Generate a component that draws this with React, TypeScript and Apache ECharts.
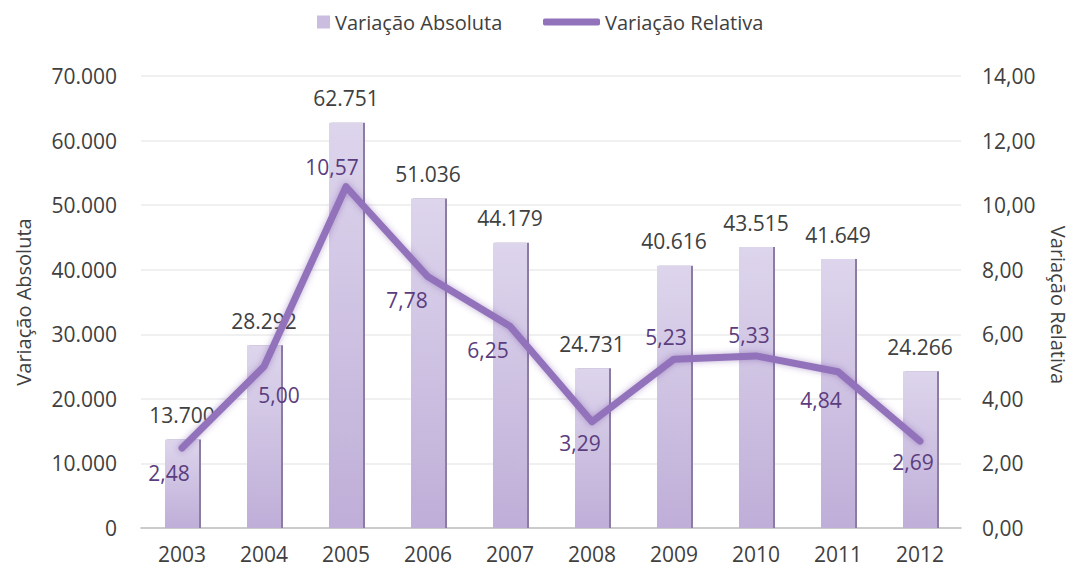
import React, { useEffect, useRef } from "react";
import * as echarts from "echarts";

const years = ["2003", "2004", "2005", "2006", "2007", "2008", "2009", "2010", "2011", "2012"];
const variacaoAbsoluta = [13700, 28292, 62751, 51036, 44179, 24731, 40616, 43515, 41649, 24266];
const variacaoRelativa = [2.48, 5.0, 10.57, 7.78, 6.25, 3.29, 5.23, 5.33, 4.84, 2.69];
const leftAxisTitle = "Variação Absoluta";
const rightAxisTitle = "Variação Relativa";
// label offsets (style only) for the relative-variation labels
const relLabelOffsets: [number, number][] = [
  [-13, 25], [15, 28], [-14, -20], [-21, 23], [-22, 24],
  [-12, 21], [-8, -22], [-7, -21], [-17, 28], [-7, 21],
];

const FONT = "Open Sans";
const TEXT = "#404040";
const FS = 21;

const fmtThousands = (v: number) => {
  const s = Math.round(v).toString();
  return s.replace(/\B(?=(\d{3})+(?!\d))/g, ".");
};
const fmtDec = (v: number) => v.toFixed(2).replace(".", ",");

export default function App() {
  const ref = useRef<HTMLDivElement>(null);
  useEffect(() => {
    if (!ref.current) return;
    const chart = echarts.init(ref.current, undefined, { renderer: "svg" });
    const barColor = new echarts.graphic.LinearGradient(0, 0, 0, 1, [
      { offset: 0, color: "#ddd5ec" },
      { offset: 1, color: "#bfaed8" },
    ]);
    chart.setOption({
      animation: false,
      textStyle: { fontFamily: FONT },
      legend: [
        {
          left: 317,
          top: 12,
          padding: 0,
          itemWidth: 13,
          itemHeight: 13,
          textStyle: { fontSize: 20, color: TEXT, fontFamily: FONT },
          data: [
            {
              name: leftAxisTitle,
              icon: "rect",
              itemStyle: { color: "#cbbde0", shadowBlur: 0, shadowOffsetX: 0, shadowColor: "transparent" },
            },
          ],
        },
        {
          left: 543,
          top: 12,
          padding: 0,
          itemWidth: 57,
          itemHeight: 7,
          textStyle: { fontSize: 20, color: TEXT, fontFamily: FONT },
          data: [
            {
              name: rightAxisTitle,
              icon: "roundRect",
              itemStyle: { color: "#9272ba", shadowBlur: 0, shadowColor: "transparent" },
            },
          ],
        },
      ],
      graphic: [
        {
          type: "text",
          x: 23,
          y: 302,
          rotation: Math.PI / 2,
          style: {
            text: leftAxisTitle,
            fill: TEXT,
            font: `20px "${FONT}"`,
            textAlign: "center",
            textVerticalAlign: "middle",
          },
        },
        {
          type: "text",
          x: 1058,
          y: 305,
          rotation: -Math.PI / 2,
          style: {
            text: rightAxisTitle,
            fill: TEXT,
            font: `20px "${FONT}"`,
            textAlign: "center",
            textVerticalAlign: "middle",
          },
        },
      ],
      grid: { left: 141, right: 112, top: 76, bottom: 41 },
      xAxis: {
        type: "category",
        data: years,
        axisLine: { lineStyle: { color: "#bfbfbf", width: 1.5 } },
        axisTick: { show: false },
        axisLabel: { color: TEXT, fontSize: FS, fontFamily: FONT, margin: 15 },
      },
      yAxis: [
        {
          type: "value",
          min: 0,
          max: 70000,
          interval: 10000,
          axisLine: { show: false },
          axisTick: { show: false },
          axisLabel: { color: TEXT, fontSize: FS, fontFamily: FONT, margin: 24, formatter: fmtThousands },
          splitLine: { lineStyle: { color: "#ebebeb", width: 1.5 } },
        },
        {
          type: "value",
          min: 0,
          max: 14,
          interval: 2,
          axisLine: { show: false },
          axisTick: { show: false },
          axisLabel: { color: TEXT, fontSize: FS, fontFamily: FONT, margin: 21, formatter: fmtDec },
          splitLine: { show: false },
        },
      ],
      series: [
        {
          name: leftAxisTitle,
          type: "bar",
          yAxisIndex: 0,
          data: variacaoAbsoluta,
          barWidth: 34,
          itemStyle: {
            color: barColor,
            shadowColor: "#8c7ca3",
            shadowOffsetX: 2,
            shadowBlur: 0,
          },
          label: {
            show: true,
            position: "top",
            distance: 14,
            color: TEXT,
            fontSize: FS,
            fontFamily: FONT,
            formatter: (p: any) => fmtThousands(p.value),
          },
        },
        {
          name: rightAxisTitle,
          type: "line",
          yAxisIndex: 1,
          data: variacaoRelativa.map((v, i) => ({
            value: v,
            label: { offset: relLabelOffsets[i] },
          })),
          symbol: "circle",
          symbolSize: 1,
          itemStyle: { color: "#9272ba" },
          lineStyle: {
            color: "#9272ba",
            width: 7,
            cap: "round",
            join: "round",
            shadowColor: "rgba(110,70,160,0.45)",
            shadowBlur: 6,
          },
          label: {
            show: true,
            position: "inside",
            color: "#5b3d7e",
            fontSize: FS,
            fontFamily: FONT,
            formatter: (p: any) => fmtDec(p.value),
          },
          z: 3,
        },
      ],
    });
    return () => chart.dispose();
  }, []);
  return <div ref={ref} style={{ width: 1073, height: 569, position: "absolute", left: 0, top: 0 }} />;
}
